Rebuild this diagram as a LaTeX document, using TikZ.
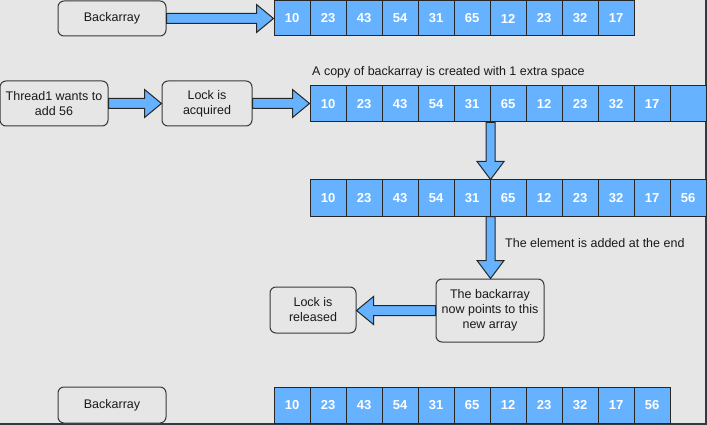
\documentclass[tikz,border=0pt]{standalone}
\usepackage{fontspec}
\setmainfont{Liberation Sans}
\usetikzlibrary{calc}
\definecolor{bg}{HTML}{E6E6E6}
\definecolor{cellblue}{HTML}{66B2FF}
\definecolor{edge}{HTML}{36393D}
\newcommand\rarrow[2]{\draw[barrow] let \p1=(#1), \p2=(#2) in (\x1,\y1+5pt) -- (\x2-17pt,\y1+5pt) -- (\x2-17pt,\y1+14pt) -- (\x2,\y1) -- (\x2-17pt,\y1-14pt) -- (\x2-17pt,\y1-5pt) -- (\x1,\y1-5pt) -- cycle;}
\newcommand\larrow[2]{\draw[barrow] let \p1=(#1), \p2=(#2) in (\x1,\y1+5pt) -- (\x2+17pt,\y1+5pt) -- (\x2+17pt,\y1+14pt) -- (\x2,\y1) -- (\x2+17pt,\y1-14pt) -- (\x2+17pt,\y1-5pt) -- (\x1,\y1-5pt) -- cycle;}
\newcommand\darrow[2]{\draw[barrow] let \p1=(#1), \p2=(#2) in (\x1-4.5pt,\y1) -- (\x1-4.5pt,\y2+18pt) -- (\x1-13.5pt,\y2+18pt) -- (\x1,\y2) -- (\x1+13.5pt,\y2+18pt) -- (\x1+4.5pt,\y2+18pt) -- (\x1+4.5pt,\y1) -- cycle;}
\begin{document}
\begin{tikzpicture}[x=1pt,y=-1pt,
  txt/.style={font=\fontsize{12.5}{15}\selectfont, text=black!90},
  box/.style={txt, draw=edge, fill=bg, line width=1pt, rounded corners=6pt, align=center, inner sep=0pt},
  cell/.style={draw=black!85, fill=cellblue, line width=1pt, minimum width=36pt, minimum height=36pt, inner sep=0pt, text=white, font=\fontsize{13}{15}\selectfont\bfseries},
  barrow/.style={draw=black!85, fill=cellblue, line width=1pt, line join=miter}]
\fill[bg] (0,0) rectangle (707,425);
\useasboundingbox (0,0) rectangle (707,425);
\draw[edge, line width=1.2pt] (706,0) -- (706,424) -- (0,424);

% top row
\node[box, minimum width=108pt, minimum height=35pt] (back1) at (112,18.5) {Backarray};
\foreach \v [count=\i] in {10,23,43,54,31,65,12,23,32,17}
  \node[cell, minimum height=35pt] (a1-\i) at ({292+36*(\i-1)},18.5) {\v};

% second row
\node[box, minimum width=108pt, minimum height=45pt] (thread) at (54,103.5) {Thread1 wants to\\add 56};
\node[box, minimum width=90pt, minimum height=45pt] (lock) at (207,103.5) {Lock is\\acquired};
\foreach \v [count=\i] in {10,23,43,54,31,65,12,23,32,17}
  \node[cell] (a2-\i) at ({328+36*(\i-1)},104) {\v};
\node[cell] (a2-11) at (688,104) {};
\node[txt, anchor=west, inner sep=0pt] (copytxt) at (312,72) {A copy of backarray is created with 1 extra space};

% third row
\foreach \v [count=\i] in {10,23,43,54,31,65,12,23,32,17,56}
  \node[cell] (a3-\i) at ({328+36*(\i-1)},198) {\v};

\node[txt, anchor=west, inner sep=0pt] (addtxt) at (505,243) {The element is added at the end};

% pointer box and lock release
\node[box, minimum width=108pt, minimum height=63pt] (points) at (490,310.5) {The backarray\\now points to this\\new array};
\node[box, minimum width=86pt, minimum height=46pt] (released) at (313,310) {Lock is\\released};

% bottom row
\node[box, minimum width=108pt, minimum height=36pt] (back2) at (112,405) {Backarray};
\foreach \v [count=\i] in {10,23,43,54,31,65,12,23,32,17,56}
  \node[cell] (a4-\i) at ({292+36*(\i-1)},405) {\v};

% arrows
\rarrow{back1.east}{a1-1.west}
\rarrow{thread.east}{lock.west}
\rarrow{lock.east}{a2-1.west}
\darrow{a2-5.south east}{a3-6.north west}
\darrow{a3-5.south east}{points.north}
\larrow{points.west}{released.east}
\end{tikzpicture}
\end{document}
